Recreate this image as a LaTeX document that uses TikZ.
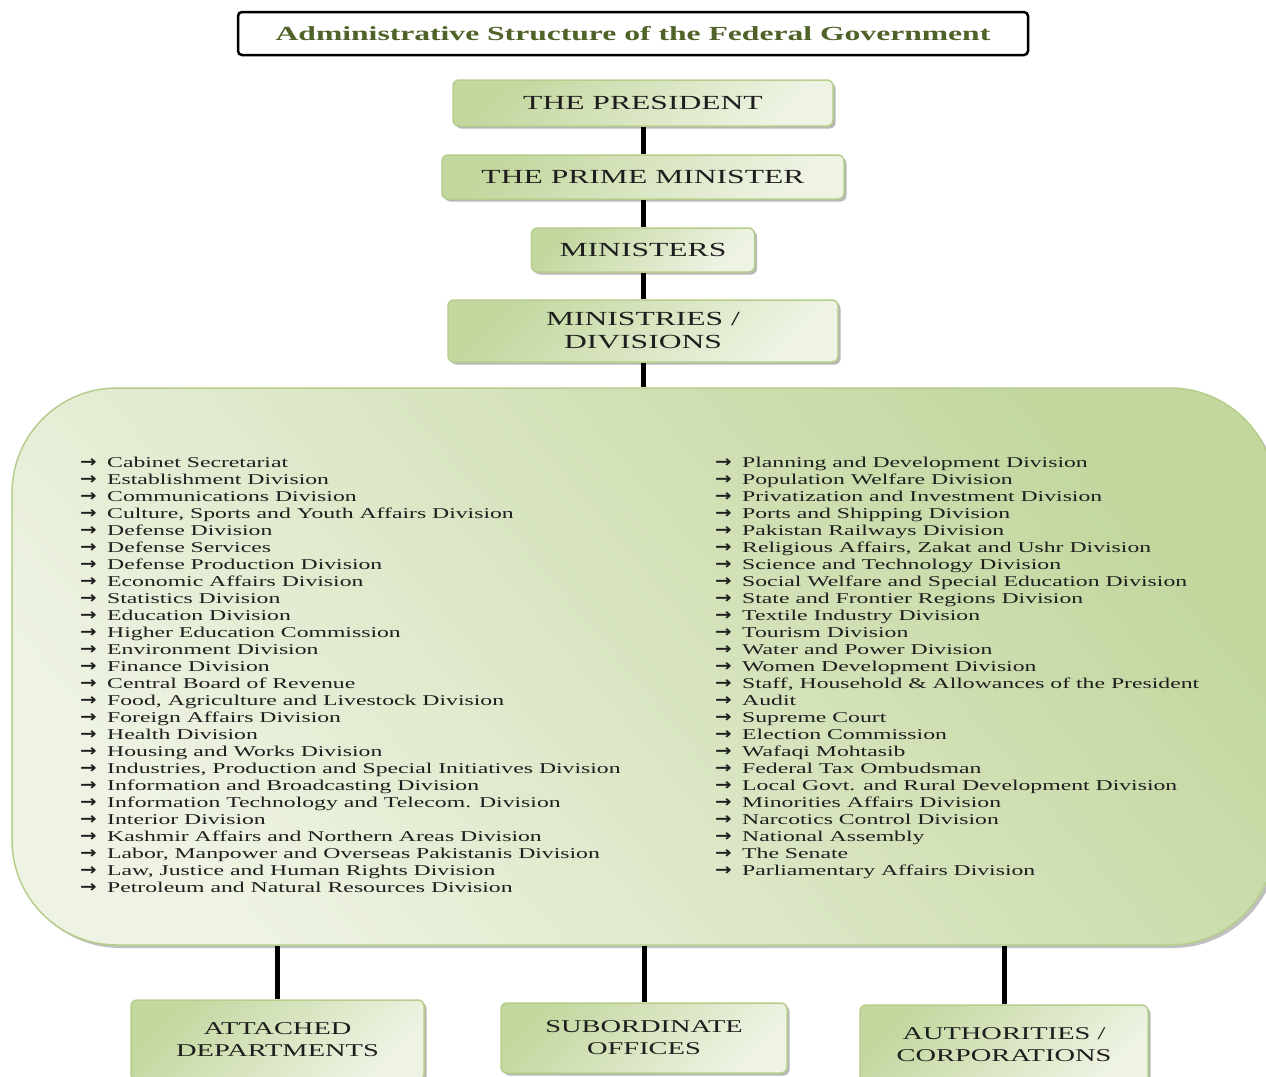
\documentclass[tikz,border=0pt]{standalone}
\usepackage{fontspec}
\setmainfont{Liberation Serif}[FakeStretch=1.58]
\newfontfamily\arrowfont{DejaVu Sans}[FakeStretch=1.2]
\usetikzlibrary{positioning,shadows}
\definecolor{Olive}{HTML}{4F6228}
\definecolor{GreenDark}{HTML}{C3D79F}
\definecolor{GreenLight}{HTML}{EEF3E3}
\definecolor{GreenEdge}{HTML}{B6CE8C}
\definecolor{Ink}{HTML}{1E1E1E}
\newcommand\itm{\makebox[27pt][l]{\raisebox{-0.3pt}{\arrowfont\bfseries\fontsize{16.5}{17}\selectfont →}}}
\tikzset{level/.style={rounded corners=6pt,draw=GreenEdge,line width=1.5pt,top color=GreenDark,bottom color=GreenLight,shading angle=45,drop shadow={shadow xshift=2.5pt,shadow yshift=-2.5pt,fill=black!40,opacity=.7},align=center,text=Ink,inner sep=0pt,font=\fontsize{20}{23}\selectfont},unit/.style={level,font=\fontsize{18}{22}\selectfont},bigbox/.style={rounded corners=105pt,draw=GreenEdge,line width=1.5pt,top color=GreenDark,bottom color=GreenLight,shading angle=-50,drop shadow={shadow xshift=3pt,shadow yshift=-3pt,fill=black!35,opacity=.7},inner sep=0pt},link/.style={line width=5pt,draw=black},items/.style={anchor=north west,align=left,inner sep=0pt,text=Ink,font=\fontsize{15}{17}\selectfont}}
\begin{document}
\begin{tikzpicture}[x=1pt,y=-1pt]
  \useasboundingbox (0,0) rectangle (1266,1076);
  \clip (0,0) rectangle (1266,1076);
  \fill[white] (0,0) rectangle (1266,1076);
  % title
  \node[draw=black,line width=2.5pt,rounded corners=4pt,fill=white,minimum width=790pt,minimum height=43pt,inner sep=0pt,text=Olive,font=\fontsize{20}{23}\selectfont\bfseries] (title) at (633,33.5) {Administrative Structure of the Federal Government};
  % chain of command
  \node[level,minimum width=380pt,minimum height=46pt] (president) at (643,103) {THE PRESIDENT};
  \node[level,minimum width=402pt,minimum height=44pt] (pm) at (643,177) {THE PRIME MINISTER};
  \node[level,minimum width=223pt,minimum height=44pt] (ministers) at (643,250) {MINISTERS};
  \node[level,minimum width=390pt,minimum height=62pt] (ministries) at (643,331) {MINISTRIES /\\DIVISIONS};
  \node[bigbox,minimum width=1263pt,minimum height=557pt] (divisions) at (643.5,666.5) {};
  \node[items] (listleft) at (80,457) {\itm Cabinet Secretariat\\
    \itm Establishment Division\\
    \itm Communications Division\\
    \itm Culture, Sports and Youth Affairs Division\\
    \itm Defense Division\\
    \itm Defense Services\\
    \itm Defense Production Division\\
    \itm Economic Affairs Division\\
    \itm Statistics Division\\
    \itm Education Division\\
    \itm Higher Education Commission\\
    \itm Environment Division\\
    \itm Finance Division\\
    \itm Central Board of Revenue\\
    \itm Food, Agriculture and Livestock Division\\
    \itm Foreign Affairs Division\\
    \itm Health Division\\
    \itm Housing and Works Division\\
    \itm Industries, Production and Special Initiatives Division\\
    \itm Information and Broadcasting Division\\
    \itm Information Technology and Telecom. Division\\
    \itm Interior Division\\
    \itm Kashmir Affairs and Northern Areas Division\\
    \itm Labor, Manpower and Overseas Pakistanis Division\\
    \itm Law, Justice and Human Rights Division\\
    \itm Petroleum and Natural Resources Division};
  \node[items] (listright) at (715,457) {\itm Planning and Development Division\\
    \itm Population Welfare Division\\
    \itm Privatization and Investment Division\\
    \itm Ports and Shipping Division\\
    \itm Pakistan Railways Division\\
    \itm Religious Affairs, Zakat and Ushr Division\\
    \itm Science and Technology Division\\
    \itm Social Welfare and Special Education Division\\
    \itm State and Frontier Regions Division\\
    \itm Textile Industry Division\\
    \itm Tourism Division\\
    \itm Water and Power Division\\
    \itm Women Development Division\\
    \itm Staff, Household \& Allowances of the President\\
    \itm Audit\\
    \itm Supreme Court\\
    \itm Election Commission\\
    \itm Wafaqi Mohtasib\\
    \itm Federal Tax Ombudsman\\
    \itm Local Govt. and Rural Development Division\\
    \itm Minorities Affairs Division\\
    \itm Narcotics Control Division\\
    \itm National Assembly\\
    \itm The Senate\\
    \itm Parliamentary Affairs Division};
  % lower units
  \node[unit,minimum width=293pt,minimum height=80pt] (attached) at (277.5,1040) {ATTACHED\\DEPARTMENTS};
  \node[unit,minimum width=286pt,minimum height=70pt] (subordinate) at (644,1038) {SUBORDINATE\\OFFICES};
  \node[unit,minimum width=288pt,minimum height=80pt] (authorities) at (1004,1045) {AUTHORITIES /\\CORPORATIONS};
  % connectors
  \draw[link] (president) -- (pm);
  \draw[link] (pm) -- (ministers);
  \draw[link] (ministers) -- (ministries);
  \draw[link] (ministries.south) -- (ministries.south |- divisions.north);
  \draw[link] (attached.north |- divisions.south) -- (attached);
  \draw[link] (subordinate.north |- divisions.south) -- (subordinate);
  \draw[link] (authorities.north |- divisions.south) -- (authorities);
\end{tikzpicture}
\end{document}
